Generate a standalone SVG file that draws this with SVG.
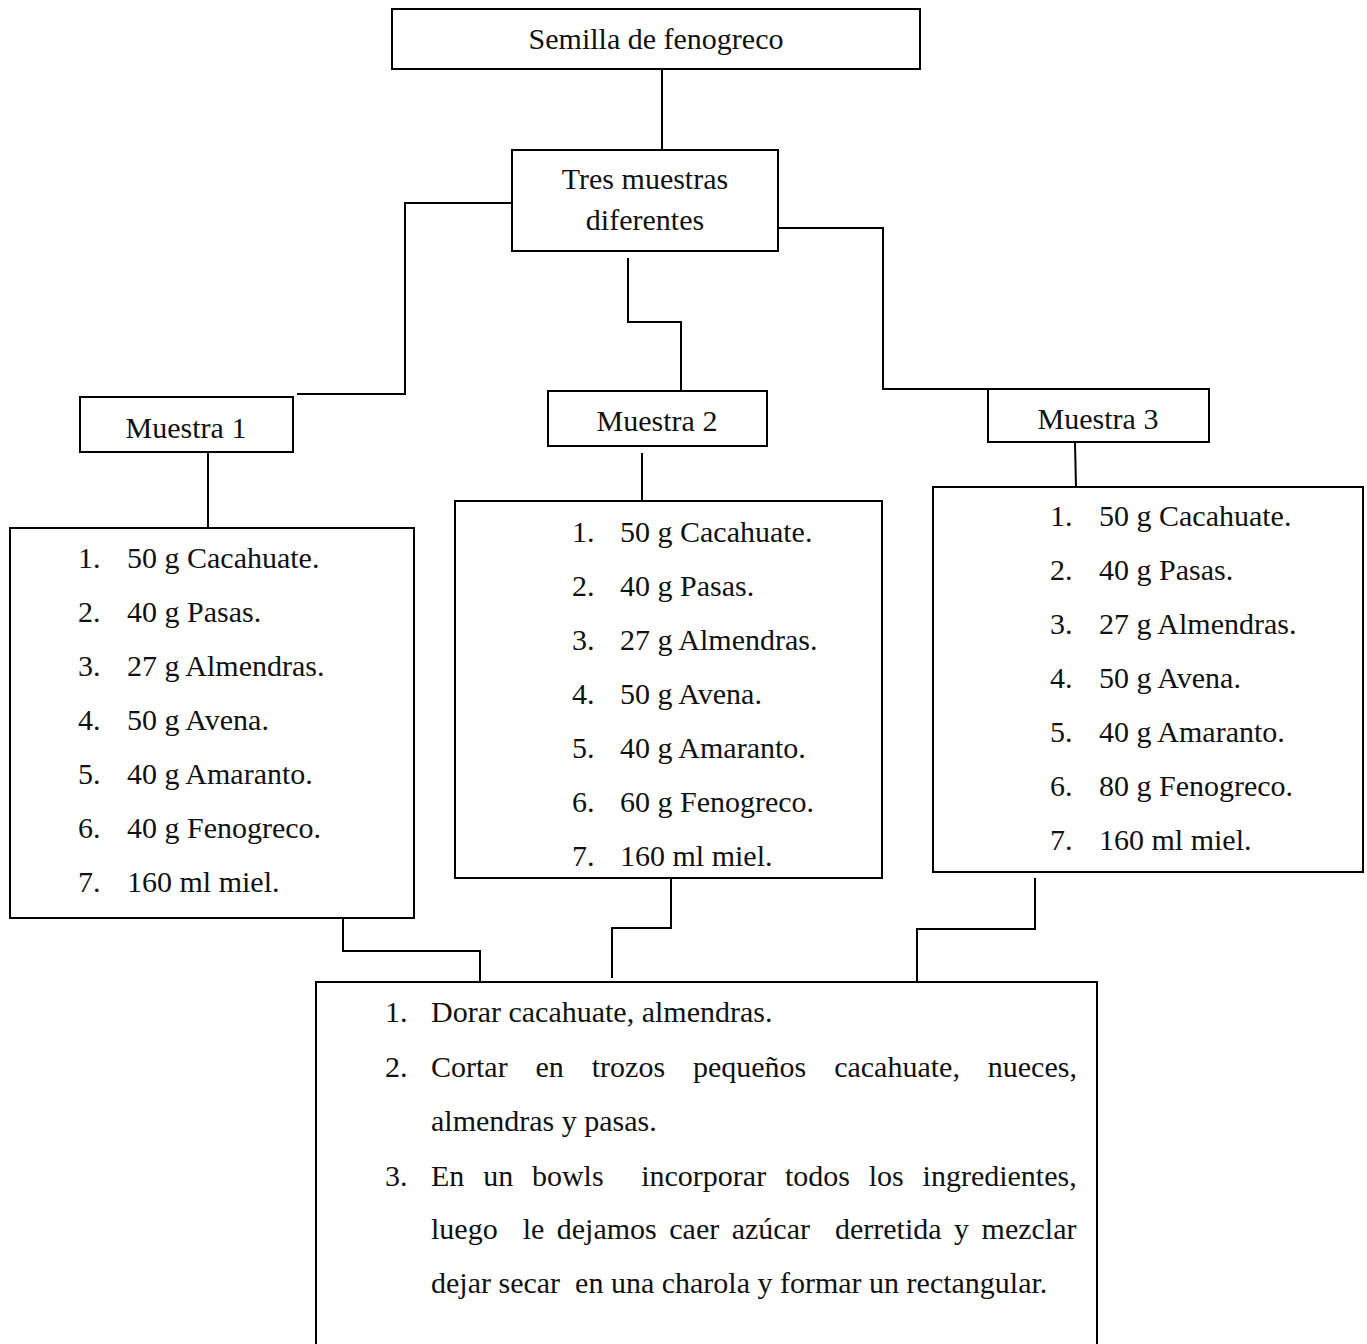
<svg xmlns="http://www.w3.org/2000/svg" width="1367" height="1344" viewBox="0 0 1367 1344">
<style>
rect{fill:#fff;stroke:#000;stroke-width:2}
.c{fill:none;stroke:#000;stroke-width:2}
text{font-family:"Liberation Serif","Times New Roman",serif;font-size:30px;fill:#111}
.m{text-anchor:middle}
.p{white-space:pre}
</style>
<rect x="0" y="0" width="1367" height="1344" style="stroke:none"/>
<g id="connectors">
<polyline class="c" points="662,69 662,150"/>
<polyline class="c" points="512,203 405,203 405,394 297,394"/>
<polyline class="c" points="628,258 628,322 681,322 681,390"/>
<polyline class="c" points="778,228 883,228 883,389 988,389"/>
<polyline class="c" points="208,452 208,528"/>
<polyline class="c" points="642,453 642,501"/>
<polyline class="c" points="1075,443 1076,487"/>
<polyline class="c" points="343,918 343,951 480,951 480,982"/>
<polyline class="c" points="671,878 671,928 612,928 612,978"/>
<polyline class="c" points="1035,878 1035,929 917,929 917,982"/>
</g>
<g id="semilla">
<rect x="392" y="9" width="528" height="60"/>
<text class="m" x="656" y="49">Semilla de fenogreco</text>
</g>
<g id="tres">
<rect x="512" y="150" width="266" height="101"/>
<text class="m" x="645" y="189">Tres muestras</text>
<text class="m" x="645" y="230">diferentes</text>
</g>
<g id="muestra1">
<rect x="80" y="397" width="213" height="55"/>
<text class="m" x="186" y="438">Muestra 1</text>
</g>
<g id="muestra2">
<rect x="548" y="391" width="219" height="55"/>
<text class="m" x="657" y="431">Muestra 2</text>
</g>
<g id="muestra3">
<rect x="988" y="389" width="221" height="53"/>
<text class="m" x="1098" y="429">Muestra 3</text>
</g>
<g id="lista1">
<rect x="10" y="528" width="404" height="390"/>
<text x="78" y="568">1.</text><text x="127" y="568">50 g Cacahuate.</text>
<text x="78" y="622">2.</text><text x="127" y="622">40 g Pasas.</text>
<text x="78" y="676">3.</text><text x="127" y="676">27 g Almendras.</text>
<text x="78" y="730">4.</text><text x="127" y="730">50 g Avena.</text>
<text x="78" y="784">5.</text><text x="127" y="784">40 g Amaranto.</text>
<text x="78" y="838">6.</text><text x="127" y="838">40 g Fenogreco.</text>
<text x="78" y="892">7.</text><text x="127" y="892">160 ml miel.</text>
</g>
<g id="lista2">
<rect x="455" y="501" width="427" height="377"/>
<text x="572" y="542">1.</text><text x="620" y="542">50 g Cacahuate.</text>
<text x="572" y="596">2.</text><text x="620" y="596">40 g Pasas.</text>
<text x="572" y="650">3.</text><text x="620" y="650">27 g Almendras.</text>
<text x="572" y="704">4.</text><text x="620" y="704">50 g Avena.</text>
<text x="572" y="758">5.</text><text x="620" y="758">40 g Amaranto.</text>
<text x="572" y="812">6.</text><text x="620" y="812">60 g Fenogreco.</text>
<text x="572" y="866">7.</text><text x="620" y="866">160 ml miel.</text>
</g>
<g id="lista3">
<rect x="933" y="487" width="430" height="385"/>
<text x="1050" y="526">1.</text><text x="1099" y="526">50 g Cacahuate.</text>
<text x="1050" y="580">2.</text><text x="1099" y="580">40 g Pasas.</text>
<text x="1050" y="634">3.</text><text x="1099" y="634">27 g Almendras.</text>
<text x="1050" y="688">4.</text><text x="1099" y="688">50 g Avena.</text>
<text x="1050" y="742">5.</text><text x="1099" y="742">40 g Amaranto.</text>
<text x="1050" y="796">6.</text><text x="1099" y="796">80 g Fenogreco.</text>
<text x="1050" y="850">7.</text><text x="1099" y="850">160 ml miel.</text>
</g>
<g id="procedimiento">
<rect x="316" y="982" width="781" height="380"/>
<text x="385" y="1022">1.</text><text x="431" y="1022">Dorar cacahuate, almendras.</text>
<text x="385" y="1077">2.</text><text x="431" y="1077" word-spacing="20.4">Cortar en trozos pequeños cacahuate, nueces,</text>
<text x="431" y="1131">almendras y pasas.</text>
<text x="385" y="1186">3.</text><text class="p" x="431" y="1186" word-spacing="11.3">En un bowls  incorporar todos los ingredientes,</text>
<text class="p" x="431" y="1239" word-spacing="5">luego  le dejamos caer azúcar  derretida y mezclar</text>
<text class="p" x="431" y="1293">dejar secar  en una charola y formar un rectangular.</text>
</g>
</svg>
